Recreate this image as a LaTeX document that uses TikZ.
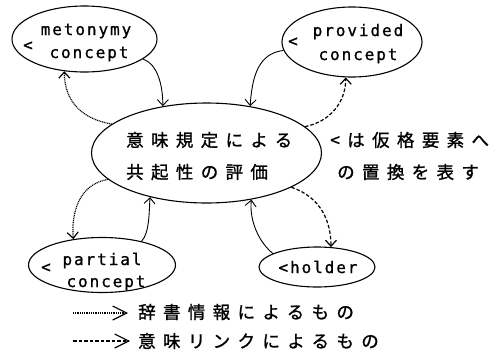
\documentclass[tikz,border=0pt]{standalone}
\usepackage{fontspec}
\newfontfamily\jpfont[LetterSpace=42,FakeBold=1.2]{Noto Sans CJK JP}
\newfontfamily\latfont[LetterSpace=12,FakeBold=1.0]{DejaVu Sans Mono}
\usetikzlibrary{arrows.meta,shapes.geometric}
\begin{document}
\begin{tikzpicture}[x=1pt,y=-1pt,
  ell/.style={draw, ellipse, inner sep=0pt, line width=1.1pt},
  lab/.style={inner sep=0pt, anchor=base, font=\latfont\fontsize{16}{16}\selectfont},
  lt/.style={inner sep=0pt, font=\latfont\fontsize{16}{16}\selectfont},
  jtxt/.style={inner sep=0pt, anchor=west, font=\jpfont\fontsize{17.5}{17.5}\selectfont},
  tip/.style={-{Straight Barb[length=6pt,width=11pt]}},
  solidc/.style={tip, line width=0.9pt},
  dictc/.style={tip, line width=1.2pt, dash pattern=on 1pt off 0.8pt},
  linkc/.style={tip, line width=1.2pt, dash pattern=on 3.5pt off 2pt},
  legtip/.style={-{Straight Barb[length=14pt,width=14pt]}},
]
\useasboundingbox (0,0) rectangle (499,354);
% ellipses
\node[ell, minimum width=145pt, minimum height=66pt] (met) at (84.5,39) {};
\node[ell, minimum width=140pt, minimum height=70pt] (prov) at (352,42) {};
\node[ell, minimum width=230pt, minimum height=100pt] (c) at (206.5,153) {};
\node[ell, minimum width=147pt, minimum height=55pt] (part) at (102,265) {};
\node[ell, minimum width=116pt, minimum height=40pt] (hold) at (317,267) {};
% labels
\node[lab] (met1) at (86,35) {metonymy};
\node[lab] (met2) at (89,58) {concept};
\node[lt] (met3) at (28,46) {<};
\node[lab] (prov1) at (358,36) {provided};
\node[lab] (prov2) at (358,60) {concept};
\node[lt] (prov3) at (293,42) {<};
\node[lab] (part1) at (102,265) {partial};
\node[lab] (part2) at (106,287) {concept};
\node[lt] (part3) at (46,268) {<};
\node[lab] (hold1) at (318,273) {<holder};
% central text
\node[jtxt] (ct1) at (126,140) {意味規定による};
\node[jtxt] (ct2) at (126,172) {共起性の評価};
\node[jtxt] (rt1) at (330,140) {<は仮格要素へ};
\node[jtxt] (rt2) at (337,172) {の置換を表す};
% connectors
\draw[solidc] (met.-19) .. controls +(15,5) and +(0,-20) .. (c.133);
\draw[dictc] (c.163) .. controls +(-30,-5) and +(0,30) .. (met.-122);
\draw[solidc] (prov.-173) .. controls +(-25,3) and +(2,-30) .. (c.47);
\draw[linkc] (c.15) .. controls +(25,-5) and +(0,25) .. (prov.-100);
\draw[dictc] (c.195) .. controls +(-30,5) and +(-2,-25) .. (part.138);
\draw[solidc] (part.31) .. controls +(8,-8) and +(-1,15) .. (c.218);
\draw[solidc] (hold.163) .. controls +(-18,-15) and +(-2,15) .. (c.-46);
\draw[linkc] (c.-22) .. controls +(30,10) and +(0,-25) .. (hold.55);
% legend
\coordinate (l1a) at (73,313);
\coordinate (l1b) at (128,313);
\coordinate (l2a) at (73,341);
\coordinate (l2b) at (130,341);
\draw[legtip, line width=1.2pt, dash pattern=on 1pt off 0.8pt] (l1a) -- (l1b);
\draw[legtip, line width=1.2pt, dash pattern=on 3.5pt off 2pt] (l2a) -- (l2b);
\node[jtxt] (lg1) at (138,312) {辞書情報によるもの};
\node[jtxt] (lg2) at (138,341) {意味リンクによるもの};
\end{tikzpicture}
\end{document}
